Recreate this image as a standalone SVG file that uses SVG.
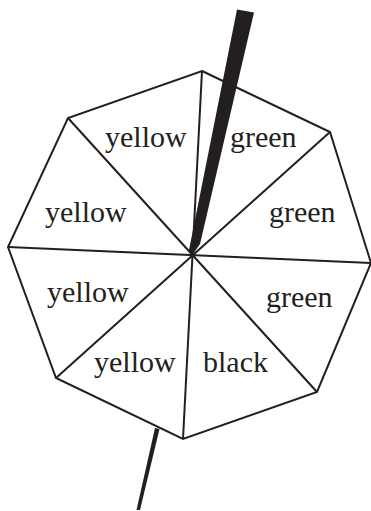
<svg xmlns="http://www.w3.org/2000/svg" width="371" height="511" viewBox="0 0 371 511">
<style>
.edge{fill:none;stroke:#231f20;stroke-width:2;stroke-linejoin:miter}
.lbl{font-family:"Liberation Serif","Times New Roman",serif;font-size:30px;fill:#231f20}
.needle{fill:#231f20;stroke:none}
</style>
<rect width="371" height="511" fill="#ffffff"/>
<g id="connectors">
<polygon class="edge" points="202,71 330,132 371,263 317,392 183,439 56,378 8,247 68,118"/>
<line class="edge" x1="202" y1="71" x2="183" y2="439"/>
<line class="edge" x1="330" y1="132" x2="56" y2="378"/>
<line class="edge" x1="371" y1="263" x2="8" y2="247"/>
<line class="edge" x1="317" y1="392" x2="68" y2="118"/>
</g>
<g id="needle">
<polygon class="needle" points="237,9.5 254,12.5 200,244 191,257 189,250"/>
<polygon class="needle" points="155,428 159.5,429 140,510 136.5,510"/>
</g>
<g id="sector-top-left"><text class="lbl" x="105" y="147">yellow</text></g>
<g id="sector-top-right"><text class="lbl" x="230" y="147">green</text></g>
<g id="sector-left-upper"><text class="lbl" x="45" y="222">yellow</text></g>
<g id="sector-right-upper"><text class="lbl" x="269" y="222">green</text></g>
<g id="sector-left-lower"><text class="lbl" x="47" y="302">yellow</text></g>
<g id="sector-right-lower"><text class="lbl" x="266" y="307">green</text></g>
<g id="sector-bottom-left"><text class="lbl" x="94" y="372">yellow</text></g>
<g id="sector-bottom-right"><text class="lbl" x="203" y="372">black</text></g>
</svg>
